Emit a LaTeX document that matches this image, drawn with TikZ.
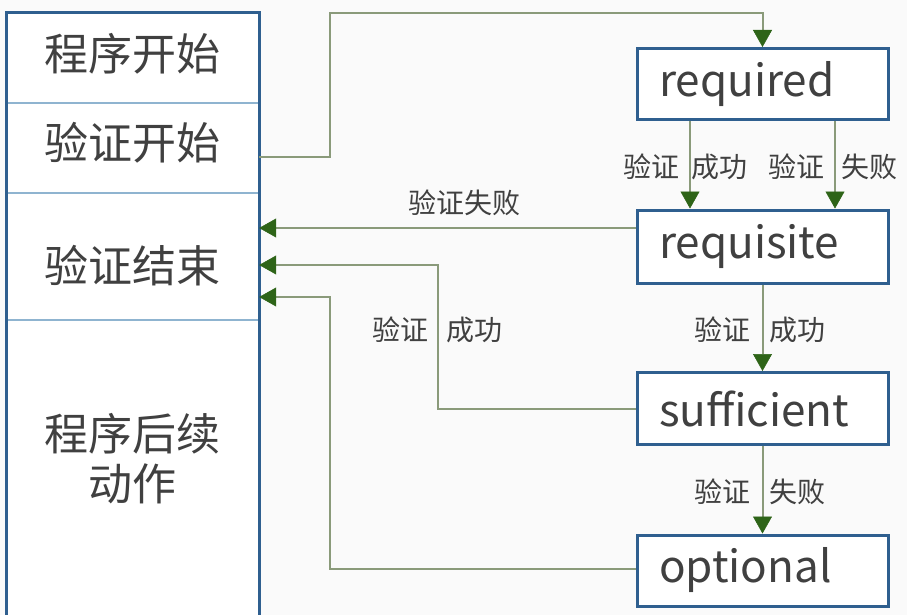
\documentclass[tikz,border=0pt]{standalone}
\usepackage{fontspec}
\setmainfont{Noto Sans CJK SC}
\usetikzlibrary{arrows.meta}
\definecolor{boxblue}{HTML}{2F5F8F}
\definecolor{divblue}{HTML}{8FB4D0}
\definecolor{linegreen}{HTML}{8A9A7A}
\definecolor{tipgreen}{HTML}{2E6418}
\definecolor{txt}{HTML}{404040}
\definecolor{bg}{HTML}{FAFAFA}
\tikzset{
  stage/.style={draw=boxblue, line width=3pt, fill=white, minimum width=251pt, minimum height=70pt,
    text=txt, font=\fontsize{44}{50}\selectfont, inner xsep=22pt, inner ysep=0pt, text width=207pt, align=left},
  cell/.style={minimum width=253pt, inner sep=0pt, text=txt, font=\fontsize{44}{50}\selectfont, align=center},
  conn/.style={draw=linegreen, line width=2pt, -{Triangle[width=19pt,length=17pt,color=tipgreen,fill=tipgreen,line width=0.5pt]}},
  lbl/.style={text=txt, font=\fontsize{28}{32}\selectfont, inner sep=0pt},
}
\begin{document}
\begin{tikzpicture}[x=1pt,y=-1pt]
\useasboundingbox[fill=bg] (0,0) rectangle (907,615);
% left column
\fill[white] (6,13) rectangle (259,630);
\node[cell, minimum height=90pt] (c1) at (132.5,58) {};
\node[cell] (c1t) at (132.5,54) {程序开始};
\node[cell, minimum height=90pt] (c2) at (132.5,148) {};
\node[cell] (c2t) at (132.5,143) {验证开始};
\node[cell, minimum height=127pt] (c3) at (132.5,256.5) {};
\node[cell] (c3t) at (132.5,266) {验证结束};
\node[cell, minimum height=300pt, anchor=north] (c4) at (132.5,320) {};
\node[text=txt, font=\fontsize{44}{50}\selectfont, align=center] (c4t) at (132.5,459) {程序后续\\动作};
\draw[divblue, line width=1.5pt] (c1.south west) -- (c1.south east);
\draw[divblue, line width=1.5pt] (c2.south west) -- (c2.south east);
\draw[divblue, line width=1.5pt] (c3.south west) -- (c3.south east);
\draw[boxblue, line width=3pt] (6,630) -- (6,13) -- (259,13) -- (259,630);
% right stages
\node[stage, minimum height=71pt] (req) at (762.5,84) {required};
\node[stage, minimum height=73pt] (rqs) at (762.5,246.5) {requisite};
\node[stage, minimum height=72pt] (suf) at (762.5,408.5) {sufficient};
\node[stage, minimum height=71pt] (opt) at (762.5,570.5) {optional};
% connectors
\coordinate (top1) at (330,13);
\draw[conn] (c2.east |- 0,157) -| (top1) -| (req.north);
\draw[conn] (req.south -| 690,0) -- (rqs.north -| 690,0);
\draw[conn] (req.south -| 835,0) -- (rqs.north -| 835,0);
\node[lbl] (l1) at (651,167) {验证};
\node[lbl] (l2) at (719,167) {成功};
\node[lbl] (l3) at (796,167) {验证};
\node[lbl] (l4) at (869,167) {失败};
\draw[conn] (rqs.west |- 0,228) -- (c3.east |- 0,228);
\node[lbl] (l5) at (464,203) {验证失败};
\draw[conn] (rqs.south) -- (suf.north);
\node[lbl] (l6) at (722,330) {验证};
\node[lbl] (l7) at (797,330) {成功};
\draw[conn] (suf.south) -- (opt.north);
\node[lbl] (l8) at (722,492) {验证};
\node[lbl] (l9) at (797,492) {失败};
\coordinate (k1) at (438,265);
\draw[conn] (suf.west) -| (k1) -- (c3.east |- k1);
\node[lbl] (l10) at (400,330) {验证};
\node[lbl] (l11) at (474,330) {成功};
\coordinate (k2) at (330,297);
\draw[conn] (opt.west |- 0,569) -| (k2) -- (c3.east |- k2);
\end{tikzpicture}
\end{document}
